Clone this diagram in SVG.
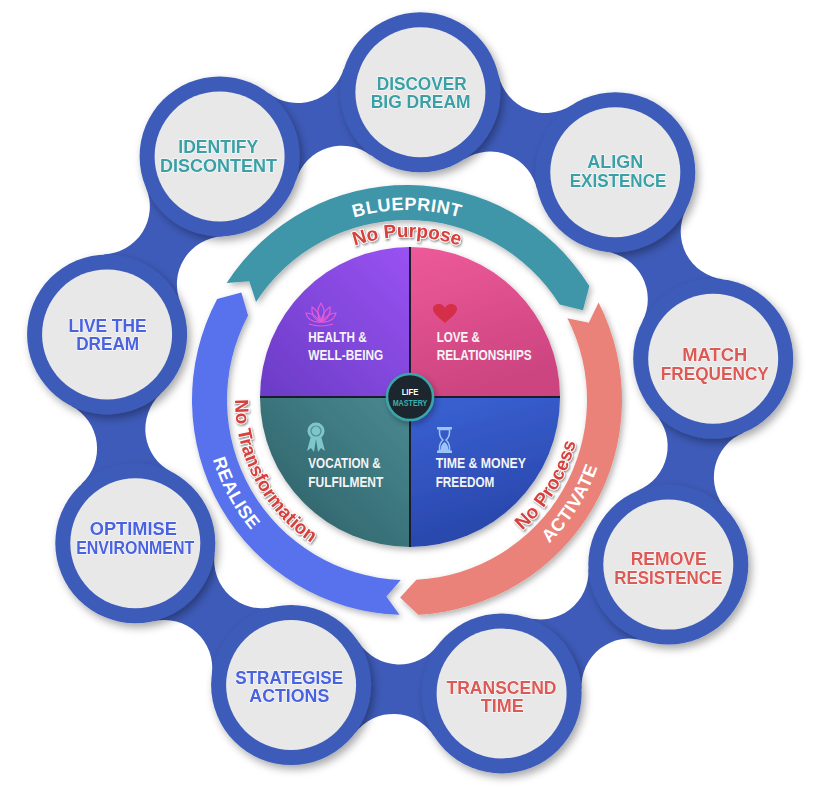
<svg xmlns="http://www.w3.org/2000/svg" width="828" height="792" viewBox="0 0 828 792">
<style>
.ring{fill:#3e5bb9}
.inner{fill:#e8e8e8}
.neck{fill:#3e5bb9}
.lbl{font-family:"Liberation Sans",Arial,sans-serif;font-weight:bold;font-size:19px;text-anchor:middle;stroke:#ffffff;stroke-width:1;paint-order:stroke}
.teal{fill:#3aa0a6}
.red{fill:#dc5a55}
.blu{fill:#4a62e0}
.q{font-family:"Liberation Sans Narrow","Liberation Sans",Arial,sans-serif;font-weight:bold;font-size:15px;fill:#f4f4f4}
.band{font-family:"Liberation Sans",Arial,sans-serif;font-weight:bold;font-size:18px;fill:#ffffff;letter-spacing:0.5px}
.no{font-family:"Liberation Sans Narrow","Liberation Sans",Arial,sans-serif;font-weight:bold;font-size:19px;fill:#d8403c;stroke:#ffffff;stroke-width:1.6px;paint-order:stroke}
</style>
<defs>
<filter id="sh" x="-20%" y="-20%" width="150%" height="150%"><feDropShadow dx="3" dy="4" stdDeviation="4" flood-color="#000" flood-opacity="0.35"/></filter>
<filter id="sh2" x="-20%" y="-20%" width="150%" height="150%"><feDropShadow dx="2" dy="3" stdDeviation="3" flood-color="#000" flood-opacity="0.3"/></filter>
<filter id="tsh" x="-10%" y="-30%" width="130%" height="170%"><feDropShadow dx="1" dy="1.5" stdDeviation="0.8" flood-color="#000" flood-opacity="0.45"/></filter>
<linearGradient id="gTL" x1="1" y1="0" x2="0" y2="1"><stop offset="0" stop-color="#9a52f2"/><stop offset="1" stop-color="#6a3cc6"/></linearGradient>
<linearGradient id="gTR" x1="0" y1="0" x2="0.3" y2="1"><stop offset="0" stop-color="#ee5a99"/><stop offset="1" stop-color="#cc4480"/></linearGradient>
<linearGradient id="gBL" x1="1" y1="0" x2="0" y2="1"><stop offset="0" stop-color="#4a8a92"/><stop offset="1" stop-color="#2b5d64"/></linearGradient>
<linearGradient id="gBR" x1="0" y1="0" x2="0.3" y2="1"><stop offset="0" stop-color="#3a62d4"/><stop offset="1" stop-color="#2946aa"/></linearGradient>
<path id="neckShape" d="M65.8,-45.5 A48,48 0 0 0 144.8,-45.5 L144.8,45.5 A48,48 0 0 0 65.8,45.5 Z"/>
<path id="pBlue" d="M242.46,305 A190,190 0 0 1 571.54,305"/>
<path id="pPurp" d="M265.84,318.5 A163,163 0 0 1 548.16,318.5"/>
<path id="pAct" d="M500.90,578.85 A202,202 0 0 0 608.84,408.11"/>
<path id="pProc" d="M476.94,559.32 A174,174 0 0 0 580.64,388.77"/>
<path id="pReal" d="M204.07,394.69 A203,203 0 0 0 300.93,573.09"/>
<path id="pTrans" d="M242.52,349.71 A172,172 0 0 0 356.71,564.48"/>
</defs>
<rect width="828" height="792" fill="#ffffff"/>

<g id="connectors">
<use href="#neckShape" class="neck" transform="translate(420.4,92.3) rotate(22.3)"/>
<use href="#neckShape" class="neck" transform="translate(615.3,172.2) rotate(62.3)"/>
<use href="#neckShape" class="neck" transform="translate(713.2,358.7) rotate(102.3)"/>
<use href="#neckShape" class="neck" transform="translate(668.3,564.6) rotate(142.3)"/>
<use href="#neckShape" class="neck" transform="translate(501.6,693.4) rotate(182.3)"/>
<use href="#neckShape" class="neck" transform="translate(291.1,685) rotate(222.3)"/>
<use href="#neckShape" class="neck" transform="translate(135.3,543.2) rotate(262.3)"/>
<use href="#neckShape" class="neck" transform="translate(107.1,334.4) rotate(302.3)"/>
<use href="#neckShape" class="neck" transform="translate(219.6,156.4) rotate(342.3)"/>
</g>

<g id="node-discover" filter="url(#sh)">
<circle class="ring" cx="420.4" cy="92.3" r="80"/><circle class="inner" cx="420.4" cy="92.3" r="65"/>
<text class="lbl teal" x="421.7" y="90" textLength="90" lengthAdjust="spacingAndGlyphs">DISCOVER</text>
<text class="lbl teal" x="420.7" y="108" textLength="100" lengthAdjust="spacingAndGlyphs">BIG DREAM</text>
</g>
<g id="node-align" filter="url(#sh)">
<circle class="ring" cx="615.3" cy="172.2" r="80"/><circle class="inner" cx="615.3" cy="172.2" r="65"/>
<text class="lbl teal" x="615.3" y="168" textLength="56" lengthAdjust="spacingAndGlyphs">ALIGN</text>
<text class="lbl teal" x="618" y="187" textLength="96.7" lengthAdjust="spacingAndGlyphs">EXISTENCE</text>
</g>
<g id="node-match" filter="url(#sh)">
<circle class="ring" cx="713.2" cy="358.7" r="80"/><circle class="inner" cx="713.2" cy="358.7" r="65"/>
<text class="lbl red" x="714.8" y="361" textLength="65" lengthAdjust="spacingAndGlyphs">MATCH</text>
<text class="lbl red" x="714.8" y="380" textLength="108" lengthAdjust="spacingAndGlyphs">FREQUENCY</text>
</g>
<g id="node-remove" filter="url(#sh)">
<circle class="ring" cx="668.3" cy="564.6" r="80"/><circle class="inner" cx="668.3" cy="564.6" r="65"/>
<text class="lbl red" x="668.7" y="565" textLength="76" lengthAdjust="spacingAndGlyphs">REMOVE</text>
<text class="lbl red" x="668.2" y="584" textLength="108" lengthAdjust="spacingAndGlyphs">RESISTENCE</text>
</g>
<g id="node-transcend" filter="url(#sh)">
<circle class="ring" cx="501.6" cy="693.4" r="80"/><circle class="inner" cx="501.6" cy="693.4" r="65"/>
<text class="lbl red" x="501.5" y="694" textLength="110" lengthAdjust="spacingAndGlyphs">TRANSCEND</text>
<text class="lbl red" x="502.3" y="712" textLength="43" lengthAdjust="spacingAndGlyphs">TIME</text>
</g>
<g id="node-strategise" filter="url(#sh)">
<circle class="ring" cx="291.1" cy="685" r="80"/><circle class="inner" cx="291.1" cy="685" r="65"/>
<text class="lbl blu" x="289.2" y="684" textLength="108" lengthAdjust="spacingAndGlyphs">STRATEGISE</text>
<text class="lbl blu" x="289.3" y="702" textLength="80" lengthAdjust="spacingAndGlyphs">ACTIONS</text>
</g>
<g id="node-optimise" filter="url(#sh)">
<circle class="ring" cx="135.3" cy="543.2" r="80"/><circle class="inner" cx="135.3" cy="543.2" r="65"/>
<text class="lbl blu" x="133.3" y="535" textLength="87" lengthAdjust="spacingAndGlyphs">OPTIMISE</text>
<text class="lbl blu" x="135.2" y="554" textLength="118" lengthAdjust="spacingAndGlyphs">ENVIRONMENT</text>
</g>
<g id="node-live" filter="url(#sh)">
<circle class="ring" cx="107.1" cy="334.4" r="80"/><circle class="inner" cx="107.1" cy="334.4" r="65"/>
<text class="lbl blu" x="107.5" y="332" textLength="78" lengthAdjust="spacingAndGlyphs">LIVE THE</text>
<text class="lbl blu" x="107.7" y="350" textLength="63" lengthAdjust="spacingAndGlyphs">DREAM</text>
</g>
<g id="node-identify" filter="url(#sh)">
<circle class="ring" cx="219.6" cy="156.4" r="80"/><circle class="inner" cx="219.6" cy="156.4" r="65"/>
<text class="lbl teal" x="218.3" y="153" textLength="80" lengthAdjust="spacingAndGlyphs">IDENTIFY</text>
<text class="lbl teal" x="218.5" y="172" textLength="117" lengthAdjust="spacingAndGlyphs">DISCONTENT</text>
</g>

<g id="band-blueprint">
<path d="M226.69,282.90 A215,215 0 0 1 589.33,286.07 L582.97,310.34 L559.65,304.61 A180,180 0 0 0 256.04,301.96 L249.27,281.14 Z" fill="#3f96a9" filter="url(#sh2)"/>
<text class="band"><textPath href="#pBlue" startOffset="50%" text-anchor="middle">BLUEPRINT</textPath></text>
<text class="no" filter="url(#tsh)"><textPath href="#pPurp" startOffset="50%" text-anchor="middle">No Purpose</textPath></text>
</g>
<g id="band-activate">
<path d="M598.57,302.39 A215,215 0 0 1 418.25,614.71 L400.11,597.38 L416.42,579.75 A180,180 0 0 0 567.38,318.28 L588.80,322.83 Z" fill="#ea8279" filter="url(#sh2)"/>
<text class="band"><textPath href="#pAct" startOffset="50%" text-anchor="middle">ACTIVATE</textPath></text>
<text class="no" filter="url(#tsh)"><textPath href="#pProc" startOffset="50%" text-anchor="middle">No Process</textPath></text>
</g>
<g id="band-realise">
<path d="M399.50,614.87 A215,215 0 0 1 217.17,299.06 L241.36,292.43 L248.07,315.50 A180,180 0 0 0 400.72,579.89 L386.36,596.42 Z" fill="#5872ee" filter="url(#sh2)"/>
<text class="band"><textPath href="#pReal" startOffset="50%" text-anchor="middle">REALISE</textPath></text>
<text class="no" filter="url(#tsh)"><textPath href="#pTrans" startOffset="50%" text-anchor="middle">No Transformation</textPath></text>
</g>

<g id="wheel">
<g filter="url(#sh2)">
<path d="M410,397 L260,397 A150,150 0 0 1 410,247 Z" fill="url(#gTL)"/>
<path d="M410,397 L410,247 A150,150 0 0 1 560,397 Z" fill="url(#gTR)"/>
<path d="M410,397 L560,397 A150,150 0 0 1 410,547 Z" fill="url(#gBR)"/>
<path d="M410,397 L410,547 A150,150 0 0 1 260,397 Z" fill="url(#gBL)"/>
</g>
<path d="M410,247 V547 M260,397 H560" stroke="#1b1d2b" stroke-width="2"/>
</g>

<g id="q-health">
<g fill="none" stroke="#e45ad8" stroke-width="1.2">
<path d="M321,322 C317,316 317,309 321,303 C325,309 325,316 321,322"/>
<path d="M321,322 C314,320 311,313 312,307 C317,310 320,315 321,322"/>
<path d="M321,322 C328,320 331,313 330,307 C325,310 322,315 321,322"/>
<path d="M321,322 C312,323 307,318 306,313 C311,313 317,317 321,322"/>
<path d="M321,322 C330,323 335,318 336,313 C331,313 325,317 321,322"/>
<path d="M309,324 Q321,328 333,324"/>
</g>
<text class="q" x="308.3" y="341.7" textLength="58.3" lengthAdjust="spacingAndGlyphs">HEALTH &amp;</text>
<text class="q" x="308.3" y="360" textLength="75" lengthAdjust="spacingAndGlyphs">WELL-BEING</text>
</g>
<g id="q-love">
<path d="M445,323 C438,317 433,313 433,309 C433,305.5 436,304 439,304 C442,304 444,306 445,308 C446,306 448,304 451,304 C454,304 457,305.5 457,309 C457,313 452,317 445,323 Z" fill="#d42e48"/>
<text class="q" x="436.7" y="341.7" textLength="43.3" lengthAdjust="spacingAndGlyphs">LOVE &amp;</text>
<text class="q" x="436.7" y="360" textLength="95" lengthAdjust="spacingAndGlyphs">RELATIONSHIPS</text>
</g>
<g id="q-vocation">
<path d="M311,436 L307,451 L311,448 L314,452 L316,439 Z M321,436 L325,451 L321,448 L318,452 L316,439 Z" fill="#7fc6cb"/>
<circle cx="316" cy="431" r="8.5" fill="#7fc6cb"/>
<circle cx="316" cy="431" r="5" fill="none" stroke="#4b8e94" stroke-width="1.2"/>
<text class="q" x="308.3" y="468" textLength="72.3" lengthAdjust="spacingAndGlyphs">VOCATION &amp;</text>
<text class="q" x="308.3" y="486.7" textLength="75" lengthAdjust="spacingAndGlyphs">FULFILMENT</text>
</g>
<g id="q-time">
<rect x="437" y="427" width="15" height="2.5" fill="#9cc4f6"/>
<rect x="437" y="450.5" width="15" height="2.5" fill="#9cc4f6"/>
<path d="M439.5,429.5 L449.5,429.5 L449.5,432 Q449.5,437 446,440 Q449.5,443 449.5,448 L449.5,450.5 L439.5,450.5 L439.5,448 Q439.5,443 443,440 Q439.5,437 439.5,432 Z" fill="none" stroke="#9cc4f6" stroke-width="1.5"/>
<path d="M440.5,450 Q441,444 444.5,442 Q448,444 448.5,450 Z" fill="#9cc4f6"/>
<text class="q" x="435.7" y="468" textLength="90.3" lengthAdjust="spacingAndGlyphs">TIME &amp; MONEY</text>
<text class="q" x="435.7" y="486.7" textLength="58.7" lengthAdjust="spacingAndGlyphs">FREEDOM</text>
</g>

<g id="node-life-mastery">
<circle cx="410" cy="397" r="23" fill="#1f262e" stroke="#3aa6a9" stroke-width="2.5" filter="url(#sh2)"/>
<text x="410" y="395" font-family="Liberation Sans Narrow, Liberation Sans, sans-serif" font-weight="bold" font-size="9.5" fill="#ffffff" text-anchor="middle" textLength="16.7" lengthAdjust="spacingAndGlyphs">LIFE</text>
<text x="410" y="405.7" font-family="Liberation Sans Narrow, Liberation Sans, sans-serif" font-weight="bold" font-size="9.5" fill="#3ab0b2" text-anchor="middle" textLength="34.7" lengthAdjust="spacingAndGlyphs">MASTERY</text>
</g>
</svg>
